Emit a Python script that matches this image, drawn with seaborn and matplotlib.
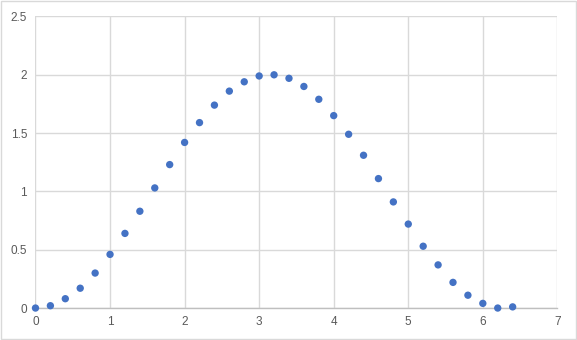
import matplotlib
matplotlib.use("Agg")
import matplotlib.pyplot as plt
import seaborn as sns
import pandas as pd

x_vals = [0.0, 0.2, 0.4, 0.6, 0.8, 1.0, 1.2, 1.4, 1.6, 1.8, 2.0, 2.2, 2.4, 2.6, 2.8, 3.0,
          3.2, 3.4, 3.6, 3.8, 4.0, 4.2, 4.4, 4.6, 4.8, 5.0, 5.2, 5.4, 5.6, 5.8, 6.0, 6.2, 6.4]
y_vals = [0.00, 0.02, 0.08, 0.17, 0.30, 0.46, 0.64, 0.83, 1.03, 1.23, 1.42, 1.59, 1.74, 1.86, 1.94, 1.99,
          2.00, 1.97, 1.90, 1.79, 1.65, 1.49, 1.31, 1.11, 0.91, 0.72, 0.53, 0.37, 0.22, 0.11, 0.04, 0.00, 0.01]
x_ticks = [0, 1, 2, 3, 4, 5, 6, 7]
y_ticks = [0, 0.5, 1, 1.5, 2, 2.5]
y_tick_labels = ["0", "0.5", "1", "1.5", "2", "2.5"]

sns.set_theme(style="white")
plt.rcParams['font.family'] = ['Liberation Sans', 'DejaVu Sans']

df = pd.DataFrame({"x": x_vals, "y": y_vals})
fig = plt.figure(figsize=(5.77, 3.4), dpi=100)
ax = fig.add_axes([0.0615, 0.094, 0.9045, 0.8575])
sns.scatterplot(data=df, x="x", y="y", ax=ax, color="#4472C4", s=28, edgecolor="none", zorder=3, clip_on=False)

ax.set_xlim(0, 7)
ax.set_ylim(0, 2.5)
ax.set_xticks(x_ticks)
ax.set_xticklabels([str(t) for t in x_ticks])
ax.set_yticks(y_ticks)
ax.set_yticklabels(y_tick_labels)
ax.grid(True, color="#d9d9d9", linewidth=1)
for s in ["top", "right", "left"]:
    ax.spines[s].set_visible(False)
ax.spines["bottom"].set_color("#bfbfbf")
ax.spines["bottom"].set_linewidth(1)
ax.tick_params(axis="both", length=0, labelsize=8.5, colors="#595959", pad=6)
ax.set_xlabel("")
ax.set_ylabel("")

fig.patches.append(plt.Rectangle((0.001, 0.002), 0.997, 0.995, transform=fig.transFigure,
                                 fill=False, edgecolor="#d9d9d9", linewidth=1))
fig.savefig("out.png", dpi=100)
